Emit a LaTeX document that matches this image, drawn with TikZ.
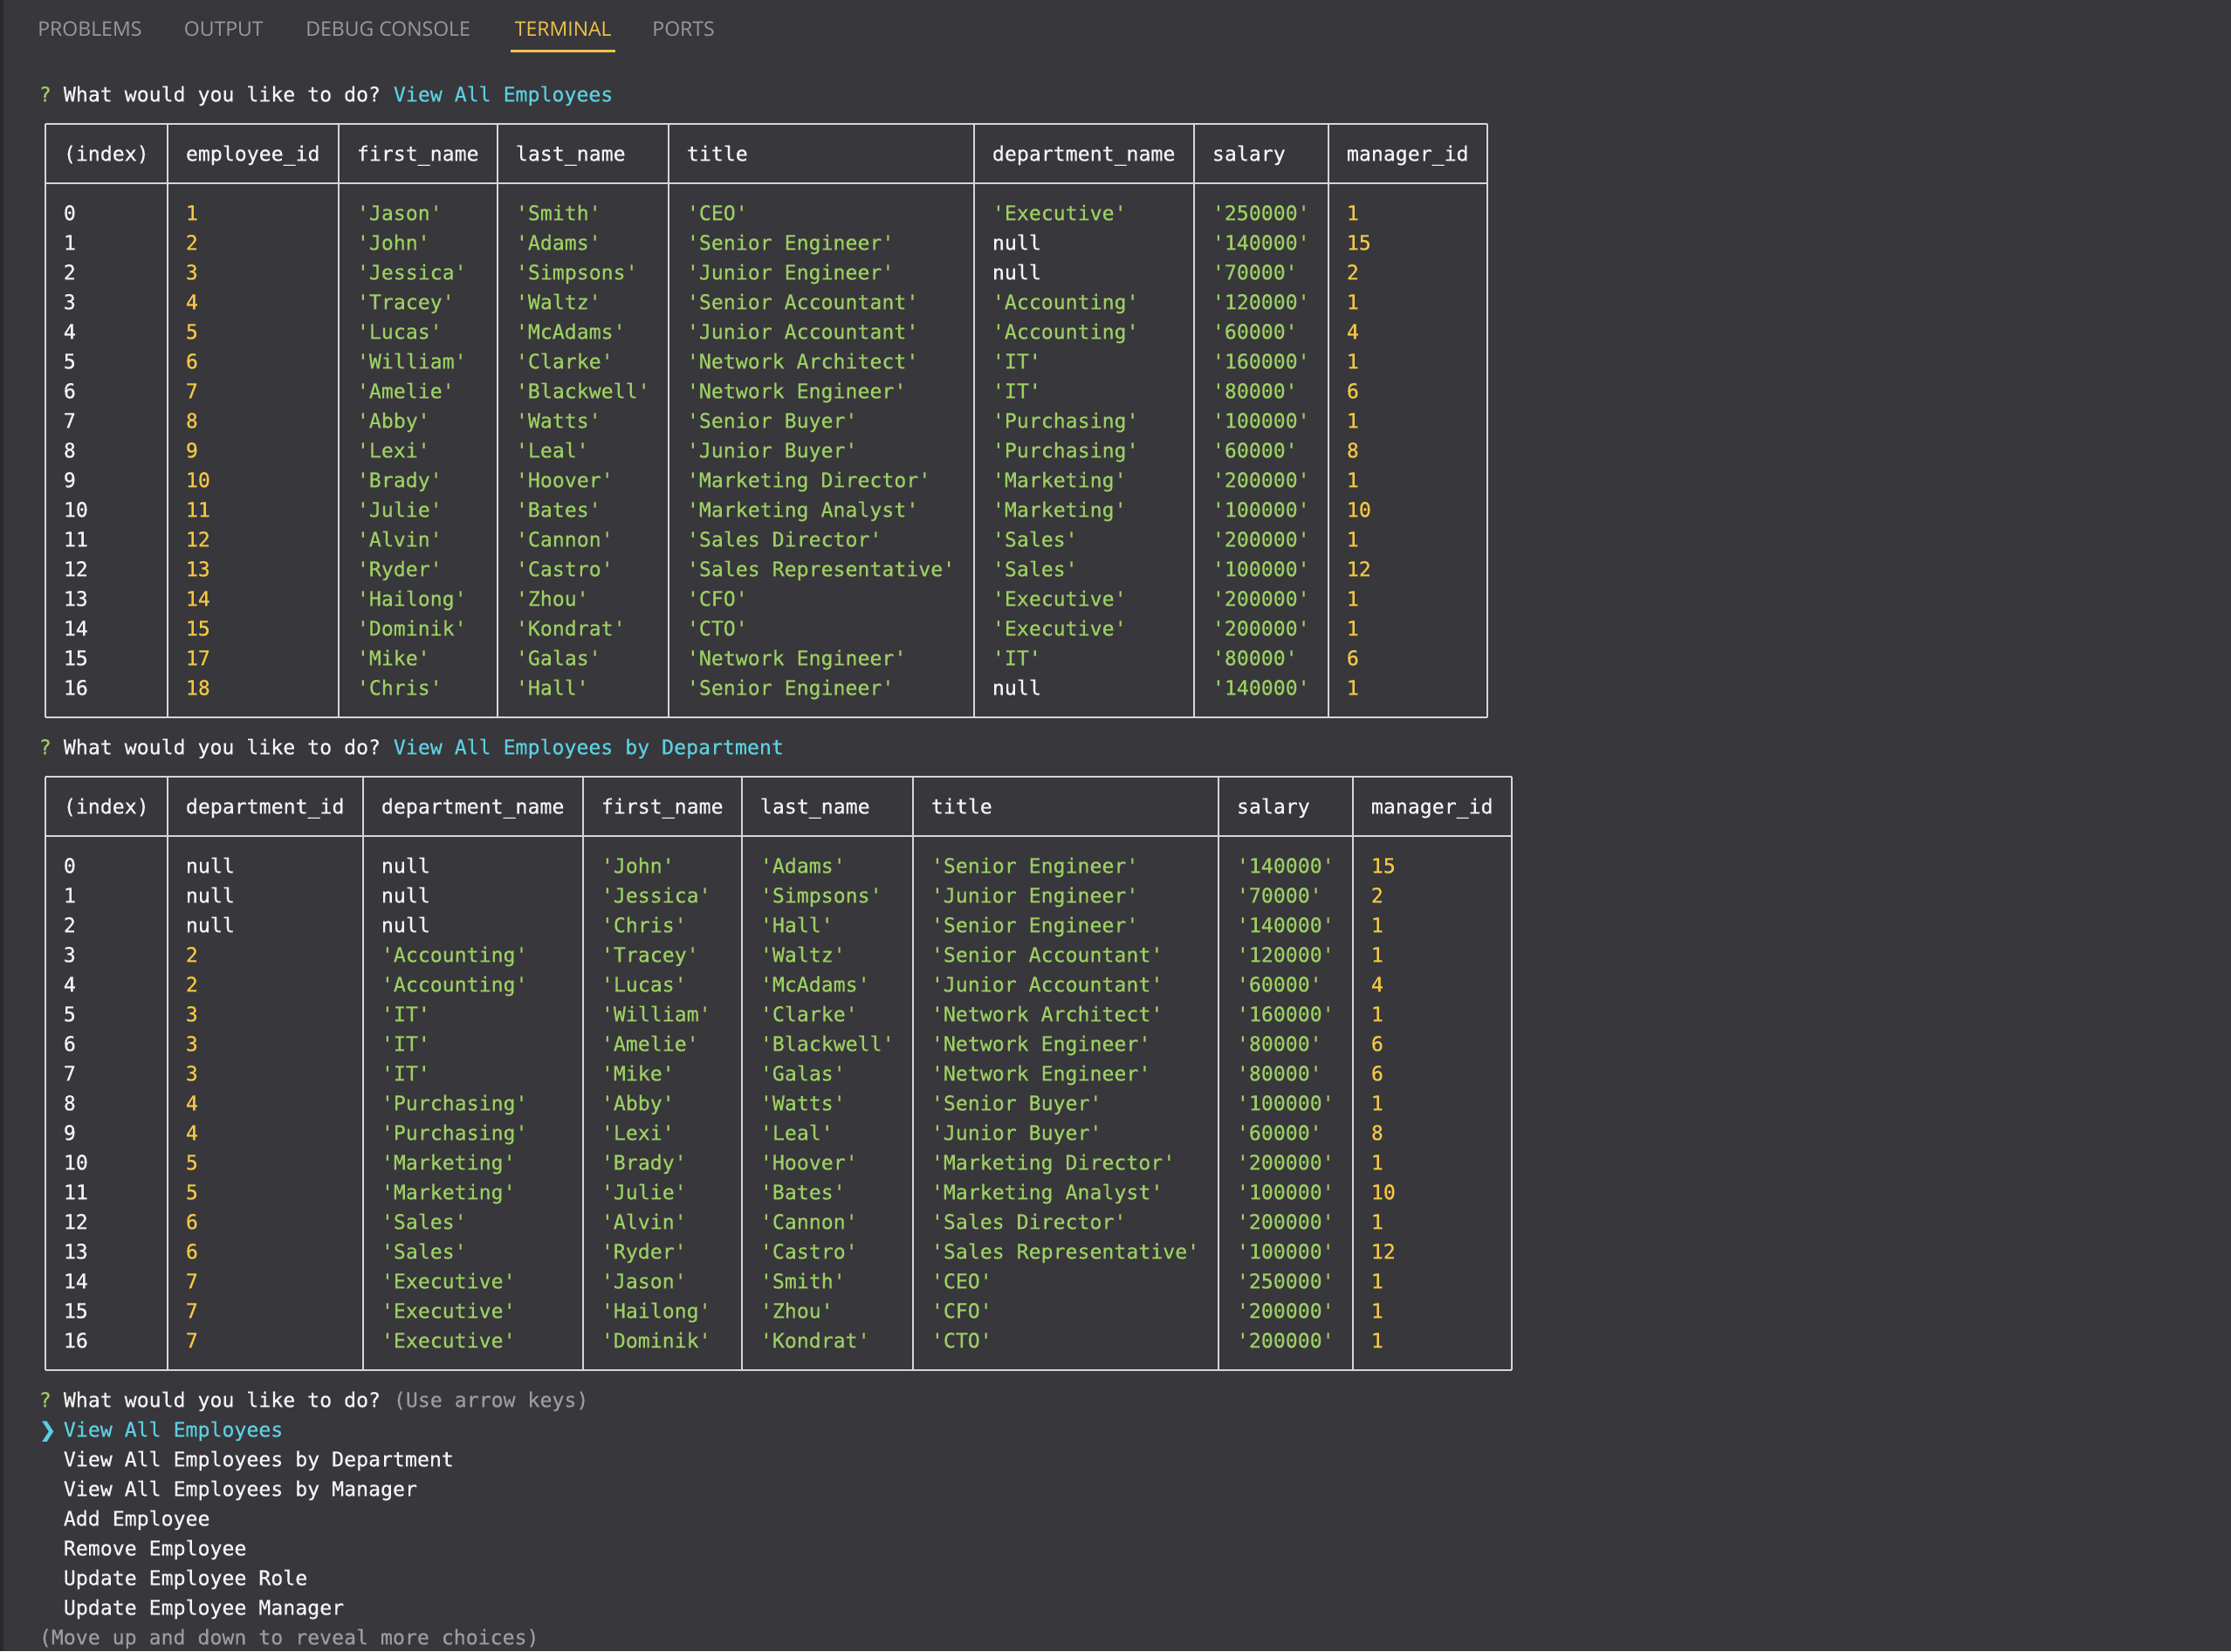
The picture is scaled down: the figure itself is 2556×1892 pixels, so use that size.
\documentclass[tikz,border=0pt]{standalone}
\usepackage{fontspec}
\setmonofont[FakeBold=0.45]{DejaVu Sans Mono}
\newfontfamily\tabfont{Open Sans}
\newfontfamily\dingfont[FakeBold=0.45]{DejaVu Sans}

\definecolor{termbg}{HTML}{38373B}
\definecolor{termedge}{HTML}{2A292D}
\definecolor{termwhite}{HTML}{F4F4F4}
\definecolor{termgreen}{HTML}{9CCF63}
\definecolor{termyellow}{HTML}{F4C744}
\definecolor{termcyan}{HTML}{5CCFE2}
\definecolor{termgrey}{HTML}{9B9B9B}
\definecolor{tabgrey}{HTML}{9A9A9A}
\definecolor{tabyellow}{HTML}{F0C24C}
\definecolor{linegrey}{HTML}{D6D6D6}

\newcommand\nullval{\color{termwhite}null}

\tikzset{
  cell/.style={anchor=base west, inner sep=0pt, font=\fontsize{11.6}{14}\selectfont\ttfamily},
  wht/.style={cell, text=termwhite},
  grn/.style={cell, text=termgreen},
  ylw/.style={cell, text=termyellow},
  cyn/.style={cell, text=termcyan},
  gry/.style={cell, text=termgrey},
  tab/.style={anchor=base west, inner sep=0pt, font=\fontsize{11.5}{13}\selectfont\tabfont, text=tabgrey},
  rule/.style={draw=linegrey, line width=1pt}
}

\begin{document}
\begin{tikzpicture}[x=0.5pt,y=-0.5pt]
\fill[termbg] (0,0) rectangle (2556,1892);
\fill[termedge] (0,0) rectangle (4,1892);
\useasboundingbox (0,0) rectangle (2556,1892);

% panel tabs
\node[tab] (problems) at (43,41) {PROBLEMS};
\node[tab] (output) at (210.5,41) {OUTPUT};
\node[tab] (debug) at (350,41) {DEBUG CONSOLE};
\node[tab, text=tabyellow] (terminal) at (589.5,41) {TERMINAL};
\node[tab] (ports) at (747,41) {PORTS};
\draw[tabyellow, line width=1.4pt] (585,58.7) -- (705,58.7);

% first prompt
\node[grn] (q1) at (44.5,116.3) {?};
\node[wht] (ask1) at (72.5,116.3) {What would you like to do?};
\node[cyn] (ans1) at (450.5,116.3) {View All Employees};

% table of employees
\foreach \y in {141.6,209.6,821.6} \draw[rule] (51.5,\y) -- (1703.5,\y);
\foreach \x in {51.5,191.5,387.5,569.5,765.5,1115.5,1367.5,1521.5,1703.5}
  \draw[rule] (\x,141.6) -- (\x,821.6);
\foreach \x/\h [count=\c] in {72.5/{(index)},212.5/employee\_id,408.5/first\_name,
  590.5/last\_name,786.5/title,1136.5/department\_name,1388.5/salary,1542.5/manager\_id}
  \node[wht] (ha-\c) at (\x,184.3) {\h};
\foreach \i/\e/\f/\l/\t/\d/\s/\m [count=\r from 4] in {
  0/1/'Jason'/'Smith'/'CEO'/'Executive'/'250000'/1,
  1/2/'John'/'Adams'/'Senior Engineer'/\nullval/'140000'/15,
  2/3/'Jessica'/'Simpsons'/'Junior Engineer'/\nullval/'70000'/2,
  3/4/'Tracey'/'Waltz'/'Senior Accountant'/'Accounting'/'120000'/1,
  4/5/'Lucas'/'McAdams'/'Junior Accountant'/'Accounting'/'60000'/4,
  5/6/'William'/'Clarke'/'Network Architect'/'IT'/'160000'/1,
  6/7/'Amelie'/'Blackwell'/'Network Engineer'/'IT'/'80000'/6,
  7/8/'Abby'/'Watts'/'Senior Buyer'/'Purchasing'/'100000'/1,
  8/9/'Lexi'/'Leal'/'Junior Buyer'/'Purchasing'/'60000'/8,
  9/10/'Brady'/'Hoover'/'Marketing Director'/'Marketing'/'200000'/1,
  10/11/'Julie'/'Bates'/'Marketing Analyst'/'Marketing'/'100000'/10,
  11/12/'Alvin'/'Cannon'/'Sales Director'/'Sales'/'200000'/1,
  12/13/'Ryder'/'Castro'/'Sales Representative'/'Sales'/'100000'/12,
  13/14/'Hailong'/'Zhou'/'CFO'/'Executive'/'200000'/1,
  14/15/'Dominik'/'Kondrat'/'CTO'/'Executive'/'200000'/1,
  15/17/'Mike'/'Galas'/'Network Engineer'/'IT'/'80000'/6,
  16/18/'Chris'/'Hall'/'Senior Engineer'/\nullval/'140000'/1}{
  \node[wht] (ea-\r-1) at (72.5,{116.3+34*\r}) {\i};
  \node[ylw] (ea-\r-2) at (212.5,{116.3+34*\r}) {\e};
  \node[grn] (ea-\r-3) at (408.5,{116.3+34*\r}) {\f};
  \node[grn] (ea-\r-4) at (590.5,{116.3+34*\r}) {\l};
  \node[grn] (ea-\r-5) at (786.5,{116.3+34*\r}) {\t};
  \node[grn] (ea-\r-6) at (1136.5,{116.3+34*\r}) {\d};
  \node[grn] (ea-\r-7) at (1388.5,{116.3+34*\r}) {\s};
  \node[ylw] (ea-\r-8) at (1542.5,{116.3+34*\r}) {\m};
}

% second prompt
\node[grn] (q2) at (44.5,864.3) {?};
\node[wht] (ask2) at (72.5,864.3) {What would you like to do?};
\node[cyn] (ans2) at (450.5,864.3) {View All Employees by Department};

% table by department
\foreach \y in {889.6,957.6,1569.6} \draw[rule] (51.5,\y) -- (1731.5,\y);
\foreach \x in {51.5,191.5,415.5,667.5,849.5,1045.5,1395.5,1549.5,1731.5}
  \draw[rule] (\x,889.6) -- (\x,1569.6);
\foreach \x/\h [count=\c] in {72.5/{(index)},212.5/department\_id,436.5/department\_name,
  688.5/first\_name,870.5/last\_name,1066.5/title,1416.5/salary,1570.5/manager\_id}
  \node[wht] (hb-\c) at (\x,932.3) {\h};
\foreach \i/\e/\d/\f/\l/\t/\s/\m [count=\r from 26] in {
  0/\nullval/\nullval/'John'/'Adams'/'Senior Engineer'/'140000'/15,
  1/\nullval/\nullval/'Jessica'/'Simpsons'/'Junior Engineer'/'70000'/2,
  2/\nullval/\nullval/'Chris'/'Hall'/'Senior Engineer'/'140000'/1,
  3/2/'Accounting'/'Tracey'/'Waltz'/'Senior Accountant'/'120000'/1,
  4/2/'Accounting'/'Lucas'/'McAdams'/'Junior Accountant'/'60000'/4,
  5/3/'IT'/'William'/'Clarke'/'Network Architect'/'160000'/1,
  6/3/'IT'/'Amelie'/'Blackwell'/'Network Engineer'/'80000'/6,
  7/3/'IT'/'Mike'/'Galas'/'Network Engineer'/'80000'/6,
  8/4/'Purchasing'/'Abby'/'Watts'/'Senior Buyer'/'100000'/1,
  9/4/'Purchasing'/'Lexi'/'Leal'/'Junior Buyer'/'60000'/8,
  10/5/'Marketing'/'Brady'/'Hoover'/'Marketing Director'/'200000'/1,
  11/5/'Marketing'/'Julie'/'Bates'/'Marketing Analyst'/'100000'/10,
  12/6/'Sales'/'Alvin'/'Cannon'/'Sales Director'/'200000'/1,
  13/6/'Sales'/'Ryder'/'Castro'/'Sales Representative'/'100000'/12,
  14/7/'Executive'/'Jason'/'Smith'/'CEO'/'250000'/1,
  15/7/'Executive'/'Hailong'/'Zhou'/'CFO'/'200000'/1,
  16/7/'Executive'/'Dominik'/'Kondrat'/'CTO'/'200000'/1}{
  \node[wht] (eb-\r-1) at (72.5,{116.3+34*\r}) {\i};
  \node[ylw] (eb-\r-2) at (212.5,{116.3+34*\r}) {\e};
  \node[grn] (eb-\r-3) at (436.5,{116.3+34*\r}) {\d};
  \node[grn] (eb-\r-4) at (688.5,{116.3+34*\r}) {\f};
  \node[grn] (eb-\r-5) at (870.5,{116.3+34*\r}) {\l};
  \node[grn] (eb-\r-6) at (1066.5,{116.3+34*\r}) {\t};
  \node[grn] (eb-\r-7) at (1416.5,{116.3+34*\r}) {\s};
  \node[ylw] (eb-\r-8) at (1570.5,{116.3+34*\r}) {\m};
}

% menu prompt
\node[grn] (q3) at (44.5,1612.3) {?};
\node[wht] (ask3) at (72.5,1612.3) {What would you like to do?};
\node[gry] (hint) at (450.5,1612.3) {(Use arrow keys)};
\node[cyn] (pointer) at (44.5,1646.3) {\dingfont ❯};
\foreach \t [count=\r from 0] in {View All Employees by Department,View All Employees by Manager,
  Add Employee,Remove Employee,Update Employee Role,Update Employee Manager}
  \node[wht] (menu-\r) at (72.5,{1680.3+34*\r}) {\t};
\node[cyn] (menu-top) at (72.5,1646.3) {View All Employees};
\node[gry] (more) at (44.5,1884.3) {(Move up and down to reveal more choices)};
\end{tikzpicture}
\end{document}
